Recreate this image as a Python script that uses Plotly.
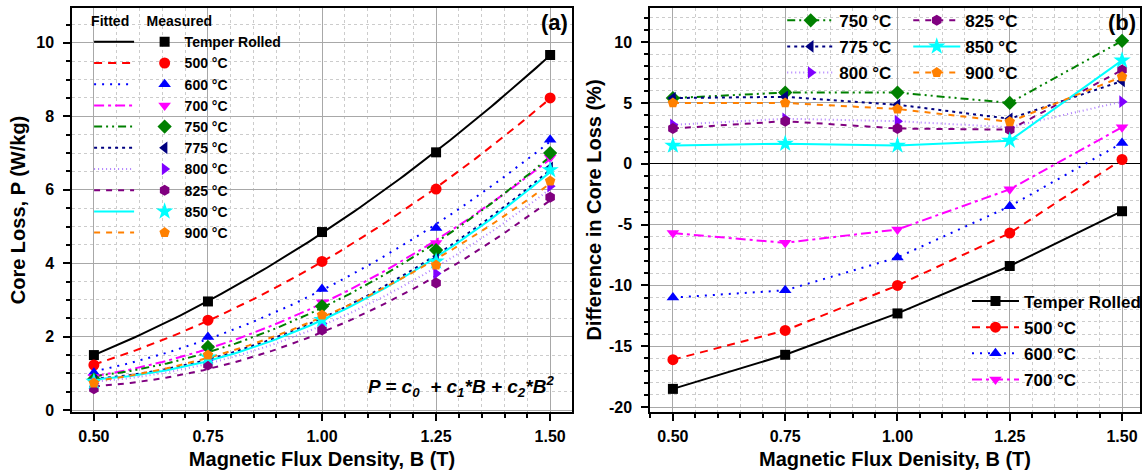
import numpy as np
import plotly.graph_objects as go

# ---------------- data ----------------
B = [0.50, 0.75, 1.00, 1.25, 1.50]
series_names = ["Temper Rolled", "500 °C", "600 °C", "700 °C", "750 °C",
                "775 °C", "800 °C", "825 °C", "850 °C", "900 °C"]

# measured core loss (W/kg)
P_tr = [1.50, 2.96, 4.85, 7.02, 9.67]
P_500 = [1.23, 2.45, 4.05, 6.02, 8.50]
P_600 = [1.02, 1.99, 3.30, 4.96, 7.36]
P_700 = [0.90, 1.70, 2.94, 4.55, 6.87]
P_750 = [0.84, 1.72, 2.83, 4.36, 7.00]
P_775 = [0.80, 1.48, 2.52, 4.10, 6.60]
P_800 = [0.72, 1.36, 2.36, 3.72, 6.10]
P_825 = [0.58, 1.23, 2.18, 3.46, 5.80]
P_850 = [0.78, 1.44, 2.46, 4.05, 6.54]
P_900 = [0.74, 1.50, 2.59, 3.95, 6.24]
measured = [P_tr, P_500, P_600, P_700, P_750, P_775, P_800, P_825, P_850, P_900]

# difference in core loss (%)
D_tr = [-18.5, -15.7, -12.3, -8.4, -3.9]
D_500 = [-16.1, -13.7, -10.0, -5.7, 0.35]
D_600 = [-11.0, -10.4, -7.7, -3.5, 1.7]
D_700 = [-5.7, -6.5, -5.4, -2.1, 3.0]
D_750 = [5.4, 5.85, 5.85, 5.0, 10.1]
D_775 = [5.4, 5.5, 4.85, 3.7, 6.8]
D_800 = [3.2, 3.7, 3.5, 3.0, 5.1]
D_825 = [2.9, 3.5, 2.9, 2.8, 7.7]
D_850 = [1.5, 1.65, 1.5, 1.9, 8.5]
D_900 = [5.0, 5.0, 4.5, 3.45, 7.15]
diffs = [D_tr, D_500, D_600, D_700, D_750, D_775, D_800, D_825, D_850, D_900]

x_ticks = [0.50, 0.75, 1.00, 1.25, 1.50]
x_ticklabels = ["0.50", "0.75", "1.00", "1.25", "1.50"]
yl_ticks = [0, 2, 4, 6, 8, 10]
yl_ticklabels = ["0", "2", "4", "6", "8", "10"]
yr_ticks = [-20, -15, -10, -5, 0, 5, 10]
yr_ticklabels = ["-20", "-15", "-10", "-5", "0", "5", "10"]

# ---------------- styles ----------------
colors = ["#000000", "#FF0000", "#0000FF", "#FF00FF", "#008000",
          "#000080", "#8000FF", "#800080", "#00FFFF", "#FF8000"]
line_colors = ["#000000", "#FF0000", "#0000FF", "#FF00FF", "#008000",
               "#000080", "#B080FF", "#800080", "#00FFFF", "#FF8000"]
dashes = ["solid", "8px,6px", "2px,6px", "10px,4px,3px,4px",
          "8px,4px,2px,4px,2px,4px", "3px,4px", "1px,3px", "6px,6px",
          "solid", "6px,6px"]
symbols = ["square", "circle", "triangle-up", "triangle-down", "diamond",
           "triangle-left", "triangle-right", "hexagon", "star", "pentagon"]
msizes = [10, 11, 11, 11, 11, 11, 11, 11, 13, 11]

FONT = "Liberation Sans, Arial, sans-serif"

fig = go.Figure()

Bfine = np.linspace(min(B), max(B), 101)

# left panel: fitted curves (quadratic fit of the measured points)
for i, name in enumerate(series_names):
    c = np.polyfit(B, measured[i], 2)
    fig.add_trace(go.Scatter(
        x=Bfine, y=np.polyval(c, Bfine), mode="lines",
        line=dict(color=line_colors[i], dash=dashes[i], width=2),
        name=" ", legend="legend5", legendgroup="f%d" % i,
        xaxis="x", yaxis="y", showlegend=True))
# left panel: measured points
for i, name in enumerate(series_names):
    fig.add_trace(go.Scatter(
        x=B, y=measured[i], mode="markers",
        marker=dict(color=colors[i], symbol=symbols[i], size=msizes[i],
                    line=dict(width=0)),
        name=name, legend="legend6", legendgroup="m%d" % i,
        xaxis="x", yaxis="y"))

# right panel
legend_of = ["legend4"] * 4 + ["legend2"] * 3 + ["legend3"] * 3
for i in range(10):
    fig.add_trace(go.Scatter(
        x=B, y=diffs[i], mode="lines+markers",
        line=dict(color=line_colors[i], dash=dashes[i], width=2),
        marker=dict(color=colors[i], symbol=symbols[i], size=msizes[i],
                    line=dict(width=0)),
        name=series_names[i], legend=legend_of[i], legendgroup="d%d" % i,
        xaxis="x2", yaxis="y2"))

axis_common = dict(
    showline=True, linecolor="black", linewidth=1.5, mirror=True,
    ticks="outside", ticklen=7, tickwidth=1.5, tickcolor="black",
    showgrid=True, gridcolor="#a8a8a8", gridwidth=1.2,
    zeroline=False, automargin=False,
    tickfont=dict(family=FONT, size=16, color="black", weight="bold"),
)
minor_common = dict(ticks="outside", ticklen=4, tickcolor="black",
                    showgrid=True, gridcolor="#cccccc", griddash="dot",
                    gridwidth=1)

title_font = dict(family=FONT, size=20, color="black", weight="bold")

fig.update_layout(
    width=1144, height=474,
    margin=dict(l=72, r=4, t=8, b=62, autoexpand=False),
    paper_bgcolor="white", plot_bgcolor="white",
    font=dict(family=FONT, color="black"),
    xaxis=dict(domain=[0, 0.4682], range=[0.452, 1.548],
               tickvals=x_ticks, ticktext=x_ticklabels, ticklabelstandoff=2,
               minor=dict(dtick=0.05, tick0=0.5, **minor_common),
               title=dict(text="Magnetic Flux Density, B (T)", font=title_font, standoff=8),
               anchor="y", **axis_common),
    yaxis=dict(domain=[0, 1], range=[-0.05, 10.95],
               tickvals=yl_ticks, ticktext=yl_ticklabels, ticklabelstandoff=6,
               minor=dict(dtick=0.5, tick0=0, **minor_common),
               title=dict(text="Core Loss, P (W/kg)", font=title_font, standoff=5),
               anchor="x", **axis_common),
    xaxis2=dict(domain=[0.5412, 1], range=[0.449, 1.54],
                tickvals=x_ticks, ticktext=x_ticklabels, ticklabelstandoff=2,
                minor=dict(dtick=0.05, tick0=0.5, **minor_common),
                title=dict(text="Magnetic Flux Denisity, B (T)", font=title_font, standoff=8),
                anchor="y2", **axis_common),
    yaxis2=dict(domain=[0, 1], range=[-20.4, 12.8],
                tickvals=yr_ticks, ticktext=yr_ticklabels, ticklabelstandoff=6,
                minor=dict(dtick=1, tick0=0, **minor_common),
                title=dict(text="Difference in Core Loss (%)", font=title_font, standoff=2),
                anchor="x2", **axis_common),
    showlegend=True,
)
fig.update_layout(yaxis2_zeroline=True, yaxis2_zerolinecolor="black",
                  yaxis2_zerolinewidth=1.2)

leg_font_small = dict(family=FONT, size=14, color="black", weight="bold")
leg_font_big = dict(family=FONT, size=17, color="black", weight="bold")
transparent = "rgba(0,0,0,0)"

fig.update_layout(
    legend5=dict(x=0.016, y=1.0, xanchor="left", yanchor="top",
                 bgcolor=transparent, font=leg_font_small, itemwidth=40,
                 tracegroupgap=0,
                 title=dict(text="Fitted", font=leg_font_small)),
    legend6=dict(x=0.068, y=1.0, xanchor="left", yanchor="top",
                 bgcolor=transparent, font=leg_font_small, itemwidth=30,
                 tracegroupgap=0,
                 title=dict(text="Measured", font=leg_font_small)),
    legend2=dict(x=0.665, y=1.013, xanchor="left", yanchor="top",
                 bgcolor=transparent, font=leg_font_big, itemwidth=47,
                 tracegroupgap=1),
    legend3=dict(x=0.783, y=1.013, xanchor="left", yanchor="top",
                 bgcolor=transparent, font=leg_font_big, itemwidth=47,
                 tracegroupgap=1),
    legend4=dict(x=0.838, y=0.318, xanchor="left", yanchor="top",
                 bgcolor=transparent, font=leg_font_big, itemwidth=47,
                 tracegroupgap=1),
)

fig.add_annotation(text="<b>(a)</b>", xref="paper", yref="paper",
                   x=(570 - 72) / 1068, y=(412 - 22) / 404,
                   xanchor="right", yanchor="middle", showarrow=False,
                   font=dict(family=FONT, size=22, color="black"))
fig.add_annotation(text="<b>(b)</b>", xref="paper", yref="paper",
                   x=(1138 - 72) / 1068, y=(412 - 22) / 404,
                   xanchor="right", yanchor="middle", showarrow=False,
                   font=dict(family=FONT, size=22, color="black"))
fig.add_annotation(text="<b><i>P = c<sub>0</sub>  + c<sub>1</sub>*B + c<sub>2</sub>*B<sup>2</sup></i></b>",
                   xref="paper", yref="paper",
                   x=(556 - 72) / 1068, y=(412 - 386) / 404,
                   xanchor="right", yanchor="middle", showarrow=False,
                   font=dict(family=FONT, size=19, color="black"))

fig.write_html("out.html", config={"displayModeBar": False},
               post_script="document.body.style.margin='0';document.body.style.overflow='hidden';")
